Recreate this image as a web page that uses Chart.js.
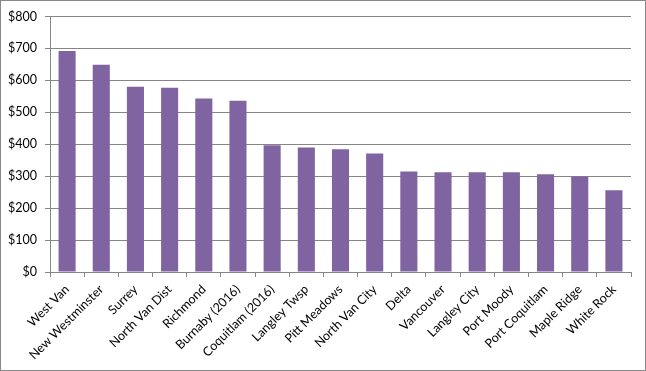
<!DOCTYPE html>
<html>
<head>
<meta charset="utf-8">
<script src="https://cdn.jsdelivr.net/npm/chart.js@4"></script>
<style>
  html, body { margin: 0; padding: 0; background: #fff; }
  #wrap { position: relative; width: 644px; height: 369px; border: 1px solid #888; }
</style>
</head>
<body>
<div id="wrap"><canvas id="grafico"></canvas></div>
<script>
const cidades = ["West Van", "New Westminster", "Surrey", "North Van Dist", "Richmond", "Burnaby (2016)",
  "Coquitlam (2016)", "Langley Twsp", "Pitt Meadows", "North Van City", "Delta", "Vancouver",
  "Langley City", "Port Moody", "Port Coquitlam", "Maple Ridge", "White Rock"]
const valores = [692, 649, 580, 577, 543, 536, 397, 390, 384, 371, 315, 312, 312, 312, 306, 299, 256]
const ticksY = [0, 100, 200, 300, 400, 500, 600, 700, 800]

Chart.defaults.font.family = "Lato, 'Liberation Sans', Arial, sans-serif"
Chart.defaults.font.size = 12.5
Chart.defaults.color = "#000"

new Chart(document.getElementById("grafico"), {
  type: "bar",
  data: {
    labels: cidades,
    datasets: [{
      data: valores,
      backgroundColor: "#8064A2",
      barPercentage: 0.5,
      categoryPercentage: 1
    }]
  },
  options: {
    responsive: true,
    maintainAspectRatio: false,
    animation: false,
    layout: { padding: { top: 14, right: 14, left: 4, bottom: 0 } },
    plugins: {
      legend: { display: false },
      tooltip: { enabled: false }
    },
    scales: {
      x: {
        offset: true,
        afterFit: axis => { axis.height = 98 },
        grid: { offset: true, drawOnChartArea: false, drawTicks: true, tickLength: 5, color: "#868686" },
        border: { color: "#868686" },
        ticks: { minRotation: 45, maxRotation: 45, autoSkip: false, padding: 5 }
      },
      y: {
        min: 0,
        max: 800,
        afterFit: axis => { axis.width = 45 },
        afterBuildTicks: axis => { axis.ticks = ticksY.map(v => ({ value: v })) },
        grid: { color: "#868686", tickLength: 5 },
        border: { color: "#868686" },
        ticks: { padding: 8, callback: v => "$" + v }
      }
    }
  }
})
</script>
</body>
</html>
